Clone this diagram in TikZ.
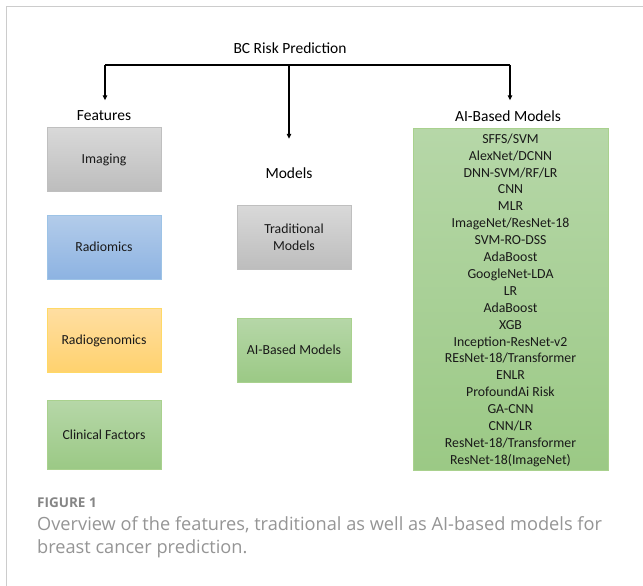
\documentclass[tikz,border=0pt]{standalone}
\usepackage{fontspec}
\setmainfont{Carlito}
\newfontfamily\capfont{Open Sans}
\usetikzlibrary{arrows.meta}
\definecolor{framec}{HTML}{CCCCCC}
\definecolor{grayT}{HTML}{D9D9D9}
\definecolor{grayB}{HTML}{BDBDBD}
\definecolor{grayD}{HTML}{BFBFBF}
\definecolor{blueT}{HTML}{B3CCEA}
\definecolor{blueB}{HTML}{8DB3E2}
\definecolor{blueD}{HTML}{9DC3E6}
\definecolor{orT}{HTML}{FFDEA2}
\definecolor{orB}{HTML}{FFD26E}
\definecolor{orD}{HTML}{FFD966}
\definecolor{grT}{HTML}{B6D7A8}
\definecolor{grB}{HTML}{9BC985}
\definecolor{grD}{HTML}{A9D18E}
\definecolor{capc}{HTML}{959595}
\definecolor{capb}{HTML}{858585}
\begin{document}
\begin{tikzpicture}[x=1pt,y=-1pt,
  box/.style={draw, line width=0.8pt, minimum width=114pt, minimum height=64pt, inner sep=2pt,
    font=\fontsize{13.8}{17}\selectfont, align=center, text=black!90, text depth=0pt},
  graybox/.style={box, top color=grayT, bottom color=grayB, draw=grayD},
  bluebox/.style={box, top color=blueT, bottom color=blueB, draw=blueD},
  orbox/.style={box, top color=orT, bottom color=orB, draw=orD},
  grbox/.style={box, top color=grT, bottom color=grB, draw=grD},
  lab/.style={font=\fontsize{15.5}{18}\selectfont, inner sep=0pt, text height=11pt, text depth=4pt},
  arr/.style={-{Triangle[length=5pt,width=4.5pt]}, line width=1.3pt}
]
\useasboundingbox (0,0) rectangle (643,586);
\fill[white] (0,0) rectangle (643,586);
\draw[framec, line width=1pt] (643,6.5) -- (6.5,6.5) -- (6.5,586);

% title and branches
\node[lab] (title) at (290,50) {BC Risk Prediction};
\coordinate (jl) at (105,65);
\coordinate (jm) at (289,65);
\coordinate (jr) at (510,65);
\node[lab] (feat) at (104,117) {Features};
\node[lab] (mods) at (289,175) {Models};
\node[lab] (aim) at (508,118) {AI-Based Models};
\draw[line width=1.3pt] (jl) -- (jr);
\draw[arr, shorten >=9pt] (jl) -- (jl |- feat.north);
\draw[arr, shorten >=28.5pt] (jm) -- (jm |- mods.north);
\draw[arr, shorten >=10pt] (jr) -- (jr |- aim.north);

% features
\node[graybox] (img) at (104,159) {Imaging};
\node[bluebox] (rad) at (104,247) {Radiomics};
\node[orbox] (radg) at (104,340) {Radiogenomics};
\node[grbox, minimum height=69pt] (clin) at (104,434.5) {Clinical Factors};

% models
\node[graybox] (trad) at (294,237) {Traditional\\Models};
\node[grbox] (aib) at (294,350) {AI-Based Models};

% AI based models list
\node[grbox, minimum width=195pt, minimum height=342pt, font=\fontsize{13.8}{16.9}\selectfont] (list) at (510.5,299)
 {SFFS/SVM\\AlexNet/DCNN\\DNN-SVM/RF/LR\\CNN\\MLR\\ImageNet/ResNet-18\\SVM-RO-DSS\\AdaBoost\\GoogleNet-LDA\\LR\\AdaBoost\\XGB\\Inception-ResNet-v2\\REsNet-18/Transformer\\ENLR\\ProfoundAi Risk\\GA-CNN\\CNN/LR\\ResNet-18/Transformer\\ResNet-18(ImageNet)};

% caption
\node[anchor=base west, inner sep=0pt, font=\capfont\bfseries\fontsize{13.5}{16}\selectfont, text=capb] (fig) at (37,507) {FIGURE 1};
\node[anchor=base west, inner sep=0pt, align=left, font=\capfont\fontsize{18.2}{23}\selectfont, text=capc] (cap) at (37,553)
 {Overview of the features, traditional as well as AI-based models for\\breast cancer prediction.};
\end{tikzpicture}
\end{document}
